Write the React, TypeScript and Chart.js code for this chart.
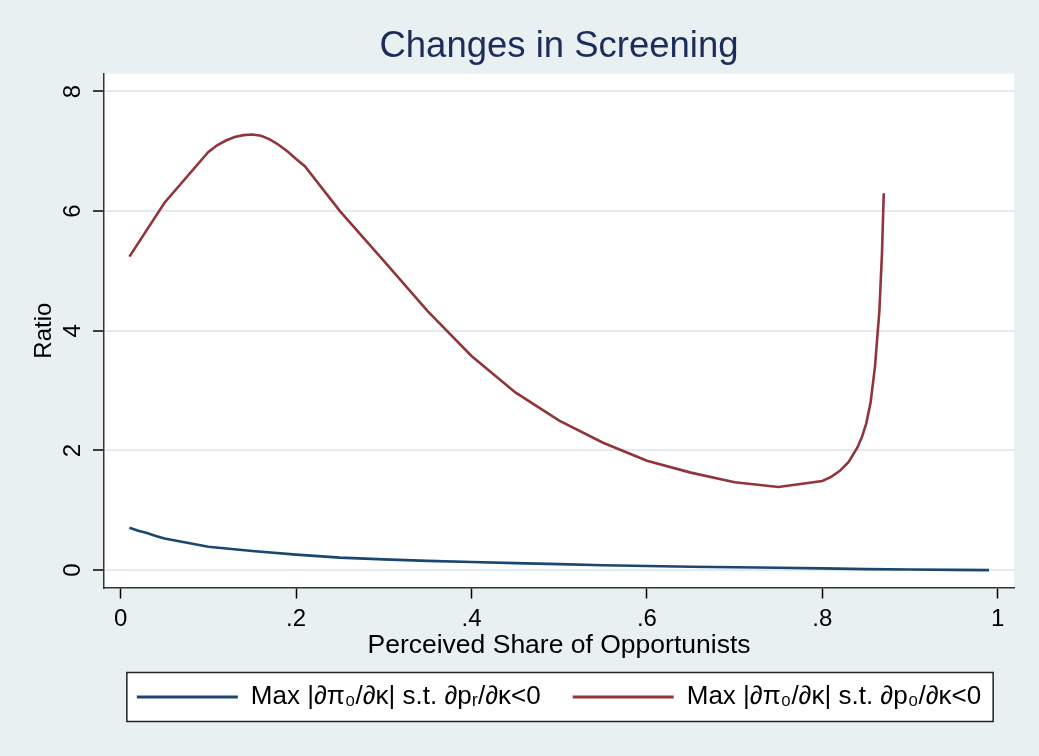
import React, { useEffect, useRef } from "react";
import { Chart, registerables } from "chart.js";

Chart.register(...registerables);

const TITLE = "Changes in Screening";
const X_TITLE = "Perceived Share of Opportunists";
const Y_TITLE = "Ratio";
const SERIES_NAMES = ["Max |∂π₀/∂κ| s.t. ∂pᵣ/∂κ<0", "Max |∂π₀/∂κ| s.t. ∂p₀/∂κ<0"];

const X_TICKS = [0, 0.2, 0.4, 0.6, 0.8, 1];
const X_TICK_LABELS = ["0", ".2", ".4", ".6", ".8", "1"];
const Y_TICKS = [0, 2, 4, 6, 8];
const Y_TICK_LABELS = ["0", "2", "4", "6", "8"];

const BLUE_X = [0.01, 0.02, 0.03, 0.04, 0.05, 0.1, 0.15, 0.2, 0.25, 0.3, 0.35, 0.4, 0.45, 0.5, 0.55, 0.6, 0.65, 0.7, 0.75, 0.8, 0.85, 0.9, 0.95, 0.99];
const BLUE_Y = [0.71, 0.66, 0.62, 0.57, 0.53, 0.39, 0.32, 0.26, 0.21, 0.18, 0.155, 0.135, 0.117, 0.1, 0.083, 0.07, 0.056, 0.048, 0.04, 0.03, 0.017, 0.01, 0.005, 0.0];

const RED_X = [0.01, 0.05, 0.1, 0.11, 0.12, 0.13, 0.14, 0.15, 0.16, 0.17, 0.18, 0.19, 0.2, 0.21, 0.25, 0.3, 0.35, 0.4, 0.45, 0.5, 0.55, 0.6, 0.65, 0.7, 0.75, 0.8, 0.81, 0.82, 0.83, 0.84, 0.845, 0.85, 0.855, 0.86, 0.865, 0.868, 0.87];
const RED_Y = [5.24, 6.14, 6.99, 7.1, 7.18, 7.24, 7.27, 7.28, 7.26, 7.2, 7.11, 7.0, 6.87, 6.75, 6.0, 5.17, 4.33, 3.58, 2.97, 2.5, 2.13, 1.83, 1.63, 1.47, 1.39, 1.49, 1.56, 1.66, 1.81, 2.05, 2.22, 2.45, 2.8, 3.4, 4.33, 5.3, 6.3];

const BG = "#e9f0f2";
const FONT = "'Liberation Sans', Arial, Helvetica, sans-serif";

const labelFor = (ticks: number[], labels: string[], v: number) => {
  const i = ticks.findIndex((t) => Math.abs(t - v) < 1e-9);
  return i >= 0 ? labels[i] : "";
};

const backgroundPlugin = {
  id: "stataBackground",
  beforeDraw(chart: any) {
    const { ctx, width, height, chartArea } = chart;
    ctx.save();
    ctx.fillStyle = BG;
    ctx.fillRect(0, 0, width, height);
    ctx.fillStyle = "#ffffff";
    ctx.fillRect(chartArea.left, chartArea.top, chartArea.right - chartArea.left, chartArea.bottom - chartArea.top);
    const legend = chart.legend;
    if (legend && legend.legendHitBoxes && legend.legendHitBoxes.length) {
      const hb = legend.legendHitBoxes;
      const first = hb[0];
      const last = hb[hb.length - 1];
      const left = first.left - 10;
      const right = last.left + last.width + 12;
      const cy = first.top + first.height / 2;
      const top = cy - 24.5;
      ctx.fillStyle = "#ffffff";
      ctx.fillRect(left, top, right - left, 49);
      ctx.strokeStyle = "#222222";
      ctx.lineWidth = 1.5;
      ctx.strokeRect(left, top, right - left, 49);
    }
    ctx.restore();
  },
};

export default function App() {
  const canvasRef = useRef<HTMLCanvasElement | null>(null);

  useEffect(() => {
    document.body.style.margin = "0";
    const canvas = canvasRef.current;
    if (!canvas) return;

    const chart = new Chart(canvas, {
      type: "line",
      data: {
        datasets: [
          {
            label: SERIES_NAMES[0],
            data: BLUE_X.map((x, i) => ({ x, y: BLUE_Y[i] })),
            borderColor: "#1a476f",
            backgroundColor: "#1a476f",
            borderWidth: 2.6,
            pointRadius: 0,
            tension: 0,
            fill: false,
          },
          {
            label: SERIES_NAMES[1],
            data: RED_X.map((x, i) => ({ x, y: RED_Y[i] })),
            borderColor: "#90353b",
            backgroundColor: "#90353b",
            borderWidth: 2.6,
            pointRadius: 0,
            tension: 0,
            fill: false,
          },
        ],
      },
      options: {
        responsive: false,
        animation: false,
        devicePixelRatio: 1,
        layout: { padding: { top: 0, left: 0, right: 25, bottom: 36 } },
        plugins: {
          title: {
            display: true,
            fullSize: false,
            text: TITLE,
            color: "#1c2d5a",
            font: { family: FONT, size: 36.5, weight: "normal" },
            padding: { top: 25, bottom: 5 },
          },
          legend: {
            display: true,
            position: "bottom",
            fullSize: false,
            labels: {
              boxWidth: 101,
              boxHeight: 3,
              padding: 32,
              color: "#000000",
              font: { family: FONT, size: 26 },
              generateLabels: (c: any) =>
                Chart.defaults.plugins.legend.labels.generateLabels(c).map((l: any) => ({
                  ...l,
                  fillStyle: l.strokeStyle,
                  lineWidth: 0,
                })),
            },
          },
          tooltip: { enabled: false },
        },
        scales: {
          x: {
            type: "linear",
            min: -0.019,
            max: 1.0185,
            afterBuildTicks: (s: any) => {
              s.ticks = X_TICKS.map((v) => ({ value: v }));
            },
            afterFit: (s: any) => {
              s.height = 64.5;
            },
            ticks: {
              autoSkip: false,
              maxRotation: 0,
              padding: 6,
              color: "#000000",
              font: { family: FONT, size: 24 },
              callback: (v: any) => labelFor(X_TICKS, X_TICK_LABELS, Number(v)),
            },
            grid: {
              drawOnChartArea: false,
              drawTicks: true,
              tickLength: 11,
              tickColor: "#000000",
              tickWidth: 1.5,
            },
            border: { display: true, color: "#333333", width: 1.5 },
            title: {
              display: true,
              text: X_TITLE,
              color: "#000000",
              font: { family: FONT, size: 26.5 },
              padding: { top: 0, bottom: -10 },
            },
          },
          y: {
            type: "linear",
            min: -0.29,
            max: 8.295,
            afterBuildTicks: (s: any) => {
              s.ticks = Y_TICKS.map((v) => ({ value: v }));
            },
            afterFit: (s: any) => {
              s.width = 104;
            },
            ticks: {
              autoSkip: false,
              minRotation: 90,
              maxRotation: 90,
              crossAlign: "center",
              padding: 13,
              color: "#000000",
              font: { family: FONT, size: 24 },
              callback: (v: any) => labelFor(Y_TICKS, Y_TICK_LABELS, Number(v)),
            },
            grid: {
              color: "#e2ebee",
              lineWidth: 2,
              drawTicks: true,
              tickLength: 11,
              tickColor: "#000000",
              tickWidth: 1.5,
            },
            border: { display: true, color: "#333333", width: 1.5 },
            title: {
              display: true,
              text: Y_TITLE,
              color: "#000000",
              font: { family: FONT, size: 24 },
              padding: { top: 30, bottom: 0 },
            },
          },
        },
      } as any,
      plugins: [backgroundPlugin],
    });

    return () => {
      chart.destroy();
    };
  }, []);

  return (
    <div style={{ width: 1039, height: 756, background: BG }}>
      <canvas ref={canvasRef} width={1039} height={756} style={{ display: "block", width: 1039, height: 756 }} />
    </div>
  );
}
